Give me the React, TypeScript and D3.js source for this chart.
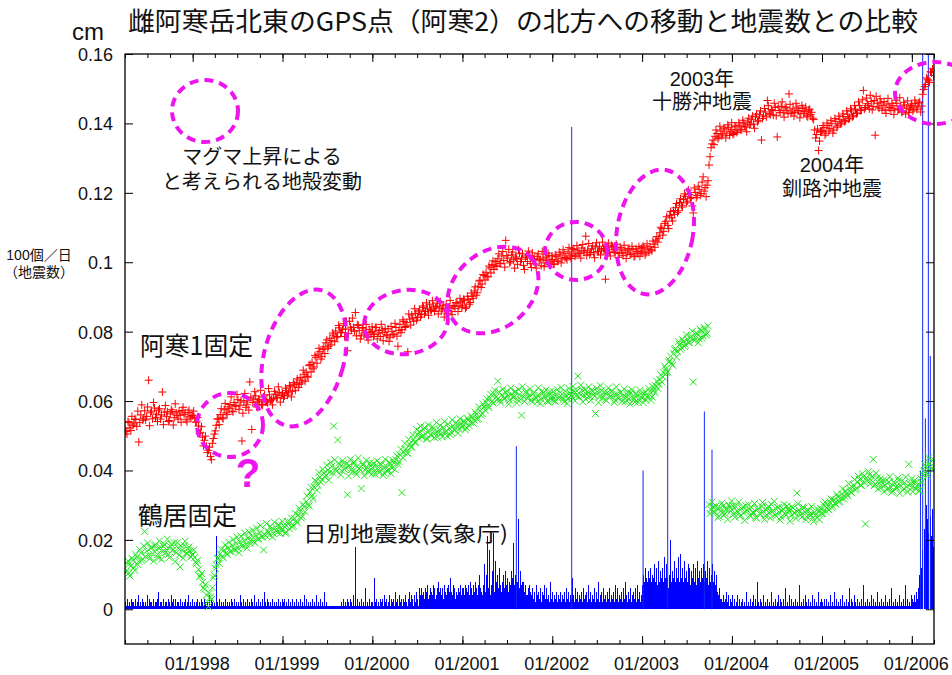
import React, { useEffect, useRef } from "react";
import * as d3 from "d3";

const WIDTH = 952;
const HEIGHT = 675;
const PLOT = { left: 125, right: 934, top: 54, bottom: 644 };

const START = new Date(1997, 3, 1);
const END = new Date(2006, 3, 1);

// Northward displacement of 阿寒2 relative to 阿寒1, in 1e-4 cm, one sample every 8 days
// from Jan 1 of each year (1997 begins Apr 1).
const akan1_1997 = [520, 505, 538, 515, 530, 548, 527, 482, 560, 545, 572, 556, 660, 566, 549, 580, 562, 574, 548, 626, 568, 555, 541, 563, 570, 552, 566, 548, 559, 573, 561, 546, 567, 555, 558];
const akan1_1998 = [558, 552, 540, 528, 510, 496, 487, 470, 458, 440, 478, 505, 530, 548, 561, 552, 575, 566, 583, 590, 571, 596, 585, 604, 588, 485, 597, 582, 601, 655, 518, 606, 615, 598, 603, 590, 612, 600, 595, 618, 604, 608, 620, 611, 625, 616];
const akan1_1999 = [621, 615, 630, 624, 641, 628, 647, 652, 639, 668, 660, 676, 683, 669, 705, 712, 698, 726, 735, 742, 728, 756, 768, 752, 781, 774, 790, 802, 786, 811, 798, 823, 808, 745, 830, 805, 812, 855, 820, 803, 788, 810, 797, 784, 806, 792];
const akan1_2000 = [801, 792, 812, 796, 786, 805, 798, 791, 808, 784, 800, 793, 812, 758, 821, 806, 829, 815, 742, 836, 848, 830, 852, 841, 862, 849, 870, 858, 866, 879, 861, 874, 868, 882, 871, 859, 876, 864, 853, 870, 858, 875, 867, 882, 873, 886];
const akan1_2001 = [876, 889, 871, 893, 884, 902, 917, 905, 931, 948, 937, 962, 971, 958, 984, 993, 979, 1002, 1010, 996, 1018, 1005, 1063, 1012, 998, 1021, 1007, 1015, 994, 1026, 1009, 991, 1013, 1002, 1020, 985, 1008, 995, 1017, 1004, 990, 1012, 998, 1006, 1019, 1001];
const akan1_2002 = [1008, 995, 1016, 1003, 1021, 1010, 1026, 1012, 1030, 1018, 1024, 1037, 1020, 1033, 1026, 1041, 1029, 1075, 1035, 1022, 1039, 1027, 1044, 1031, 1046, 1035, 1040, 951, 1043, 1030, 1049, 1036, 1028, 1042, 1025, 1038, 1019, 1033, 1027, 1040, 1024, 1036, 1018, 1031, 1045, 1029];
const akan1_2003 = [1032, 1041, 1026, 1038, 1045, 1033, 1052, 1064, 1058, 1085, 1097, 1089, 1118, 1106, 1135, 1128, 1149, 1157, 1143, 1172, 1164, 1181, 1190, 1176, 1195, 1187, 1142, 1201, 1192, 1210, 1198, 1246, 1215, 1222, 1280, 1330, 1352, 1363, 1371, 1360, 1378, 1369, 1384, 1372, 1389, 1377];
const akan1_2004 = [1382, 1371, 1390, 1378, 1395, 1383, 1401, 1389, 1404, 1396, 1412, 1398, 1419, 1405, 1425, 1352, 1421, 1433, 1466, 1428, 1440, 1424, 1446, 1361, 1437, 1449, 1432, 1445, 1438, 1485, 1429, 1442, 1431, 1447, 1436, 1428, 1443, 1434, 1422, 1438, 1426, 1415, 1381, 1368, 1322, 1375];
const akan1_2005 = [1379, 1388, 1372, 1394, 1385, 1399, 1381, 1406, 1393, 1412, 1401, 1420, 1408, 1427, 1415, 1436, 1422, 1441, 1430, 1452, 1438, 1495, 1446, 1457, 1442, 1463, 1449, 1366, 1458, 1444, 1461, 1452, 1439, 1456, 1446, 1437, 1451, 1442, 1458, 1440, 1449, 1435, 1453, 1444, 1431, 1448];
const akan1_2006 = [1452, 1441, 1458, 1447, 1462, 1450, 1498, 1512, 1527, 1518, 1546, 1538];

// Same station, the samples taken 4 days after each of the above.
const akan1Mid_1997 = [512, 541, 523, 556, 534, 547, 571, 538, 589, 551, 546, 583, 529, 571, 596, 553, 541, 578, 560, 532, 587, 569, 544, 575, 531, 592, 558, 571, 539, 582, 566, 540, 574, 551];
const akan1Mid_1998 = [571, 539, 553, 507, 526, 471, 499, 452, 467, 431, 492, 514, 549, 532, 578, 549, 593, 561, 578, 612, 569, 587, 619, 576, 601, 565, 622, 589, 574, 611, 596, 627, 583, 604, 631, 588, 617, 598, 636, 602, 589, 628, 609, 641, 597, 624];
const akan1Mid_1999 = [608, 637, 617, 645, 612, 653, 631, 664, 648, 652, 689, 657, 671, 702, 684, 693, 731, 709, 752, 721, 749, 737, 776, 758, 762, 796, 771, 784, 818, 797, 806, 786, 829, 794, 813, 839, 801, 788, 818, 779, 812, 793, 821, 776, 798, 814];
const akan1Mid_2000 = [786, 812, 779, 803, 821, 774, 809, 788, 772, 815, 791, 824, 787, 803, 797, 834, 812, 826, 851, 819, 839, 866, 833, 857, 842, 874, 851, 883, 847, 863, 889, 858, 872, 851, 886, 866, 842, 879, 861, 890, 849, 873, 884, 858, 896, 869];
const akan1Mid_2001 = [893, 867, 902, 879, 911, 896, 929, 912, 946, 927, 965, 949, 958, 989, 969, 1004, 991, 988, 1024, 997, 1031, 986, 1019, 1037, 1002, 1029, 983, 1011, 1036, 1002, 1024, 979, 1018, 1032, 996, 1027, 1011, 983, 1024, 1008, 1031, 987, 1015, 1026, 993, 1018];
const akan1Mid_2002 = [994, 1021, 1003, 1029, 998, 1036, 1014, 1007, 1042, 1011, 1039, 1017, 1048, 1025, 1012, 1051, 1033, 1019, 1054, 1028, 1047, 1013, 1056, 1031, 1021, 1058, 1037, 1024, 1055, 1018, 1046, 1029, 1052, 1014, 1043, 1027, 1049, 1011, 1038, 1022, 1046, 1016, 1039, 1025, 1017, 1042];
const akan1Mid_2003 = [1047, 1021, 1053, 1029, 1036, 1061, 1043, 1074, 1069, 1101, 1078, 1112, 1131, 1097, 1146, 1119, 1138, 1169, 1148, 1183, 1159, 1197, 1171, 1208, 1183, 1162, 1214, 1186, 1219, 1193, 1231, 1205, 1189, 1235, 1304, 1341, 1339, 1381, 1356, 1392, 1364, 1387, 1358, 1396, 1365, 1402];
const akan1Mid_2004 = [1368, 1393, 1374, 1402, 1381, 1409, 1392, 1376, 1415, 1398, 1421, 1386, 1427, 1409, 1436, 1414, 1443, 1419, 1451, 1425, 1437, 1458, 1422, 1449, 1431, 1462, 1418, 1447, 1428, 1455, 1433, 1421, 1458, 1437, 1416, 1452, 1429, 1447, 1419, 1441, 1432, 1411, 1358, 1384, 1349, 1377];
const akan1Mid_2005 = [1394, 1366, 1401, 1378, 1409, 1372, 1414, 1389, 1421, 1398, 1427, 1405, 1436, 1413, 1442, 1419, 1451, 1428, 1462, 1437, 1468, 1441, 1473, 1452, 1481, 1439, 1466, 1478, 1447, 1471, 1438, 1463, 1429, 1472, 1445, 1458, 1426, 1467, 1439, 1474, 1432, 1461, 1427, 1465, 1441, 1456];
const akan1Mid_2006 = [1436, 1467, 1441, 1459, 1433, 1484, 1506, 1531, 1523, 1549, 1557];

// Same displacement relative to 鶴居, 1e-4 cm.
const tsurui_1997 = [118, 132, 104, 125, 141, 112, 150, 138, 162, 145, 224, 168, 155, 176, 160, 183, 171, 148, 179, 166, 187, 172, 158, 181, 169, 192, 163, 176, 122, 170, 184, 161, 175, 168, 157];
const tsurui_1998 = [158, 149, 132, 115, 96, 78, 58, 41, 8, 35, 62, 98, 128, 147, 160, 152, 171, 163, 178, 166, 184, 172, 190, 176, 195, 182, 198, 187, 205, 190, 211, 196, 214, 202, 220, 208, 171, 212, 226, 214, 231, 219, 236, 222, 240, 228];
const tsurui_1999 = [229, 238, 222, 245, 251, 237, 262, 255, 271, 283, 268, 296, 310, 302, 338, 326, 352, 368, 357, 381, 374, 392, 386, 401, 395, 412, 528, 404, 488, 416, 399, 421, 407, 330, 414, 402, 419, 396, 412, 405, 348, 417, 401, 409, 395, 413];
const tsurui_2000 = [408, 397, 415, 402, 419, 405, 393, 412, 401, 418, 407, 422, 431, 418, 445, 336, 452, 461, 449, 476, 468, 490, 481, 503, 512, 497, 519, 505, 491, 514, 502, 520, 508, 496, 517, 505, 524, 511, 499, 522, 510, 528, 516, 532, 520, 535];
const tsurui_2001 = [528, 541, 524, 546, 539, 553, 545, 561, 550, 572, 564, 583, 596, 587, 608, 599, 621, 612, 657, 603, 618, 609, 624, 614, 602, 620, 611, 627, 604, 618, 559, 612, 625, 608, 617, 603, 621, 610, 598, 616, 605, 622, 611, 600, 618, 607];
const tsurui_2002 = [614, 602, 620, 608, 625, 611, 598, 617, 606, 623, 612, 629, 615, 672, 621, 632, 618, 606, 627, 613, 631, 619, 564, 626, 612, 630, 617, 605, 624, 611, 628, 615, 603, 621, 609, 626, 613, 598, 619, 606, 623, 610, 597, 616, 604, 621];
const tsurui_2003 = [609, 621, 603, 615, 627, 612, 631, 644, 636, 662, 655, 681, 693, 684, 716, 708, 737, 751, 742, 763, 755, 771, 762, 779, 768, 786, 655, 782, 794, 779, 801, 788, 806, 795, 302, 287, 295, 279, 291, 268, 284, 297, 276, 289, 301, 283];
const tsurui_2004 = [287, 274, 296, 281, 268, 290, 277, 299, 284, 271, 293, 279, 265, 288, 276, 297, 282, 269, 291, 278, 302, 285, 272, 294, 280, 266, 289, 276, 298, 283, 270, 292, 278, 335, 286, 273, 295, 281, 267, 284, 271, 262, 279, 266, 283, 290];
const tsurui_2005 = [288, 301, 282, 297, 309, 293, 315, 302, 324, 311, 332, 318, 341, 327, 349, 336, 358, 344, 366, 374, 357, 381, 246, 369, 388, 372, 432, 361, 379, 364, 351, 372, 358, 345, 367, 353, 341, 362, 349, 371, 356, 343, 365, 352, 418, 359];
const tsurui_2006 = [351, 364, 347, 359, 342, 366, 398, 412, 386, 421, 405, 432];

const tsuruiMid_1997 = [107, 139, 96, 147, 121, 158, 129, 172, 141, 183, 152, 191, 146, 178, 139, 186, 158, 197, 144, 181, 163, 202, 149, 187, 171, 138, 192, 156, 183, 147, 196, 162, 179, 151];
const tsuruiMid_1998 = [171, 136, 141, 94, 103, 62, 71, 22, 47, 28, 91, 118, 146, 132, 172, 149, 186, 158, 193, 167, 201, 172, 208, 163, 211, 184, 219, 176, 223, 197, 228, 191, 234, 203, 241, 209, 216, 247, 221, 239, 208, 251, 226, 244, 219, 253];
const tsuruiMid_1999 = [241, 219, 253, 232, 263, 241, 276, 249, 291, 263, 302, 281, 327, 298, 351, 319, 372, 343, 394, 366, 403, 381, 415, 372, 423, 393, 431, 398, 421, 387, 428, 403, 419, 384, 432, 396, 425, 389, 436, 401, 418, 385, 429, 398, 422, 391];
const tsuruiMid_2000 = [421, 389, 428, 394, 417, 386, 432, 398, 424, 391, 429, 403, 442, 426, 461, 437, 478, 452, 489, 467, 502, 481, 518, 493, 527, 498, 524, 491, 531, 503, 526, 495, 538, 509, 529, 497, 541, 512, 533, 503, 546, 518, 538, 507, 549, 524];
const tsuruiMid_2001 = [542, 517, 551, 529, 557, 536, 568, 547, 583, 559, 591, 573, 606, 581, 619, 594, 631, 603, 627, 596, 634, 608, 629, 591, 637, 612, 626, 594, 633, 605, 641, 599, 628, 611, 635, 597, 624, 609, 638, 593, 629, 614, 632, 598, 627, 603];
const tsuruiMid_2002 = [627, 598, 633, 611, 639, 604, 628, 593, 636, 617, 642, 601, 629, 612, 646, 598, 633, 619, 641, 602, 628, 614, 637, 595, 644, 609, 626, 601, 638, 613, 629, 596, 641, 607, 624, 599, 635, 611, 627, 592, 633, 605, 622, 597, 631, 609];
const tsuruiMid_2003 = [596, 627, 611, 636, 602, 641, 624, 657, 648, 676, 669, 701, 682, 712, 729, 703, 748, 727, 771, 749, 778, 757, 791, 769, 783, 801, 774, 796, 768, 807, 782, 812, 791, 817, 276, 309, 281, 298, 264, 293, 306, 271, 288, 259, 296, 312];
const tsuruiMid_2004 = [298, 265, 283, 309, 271, 294, 256, 287, 301, 268, 279, 305, 262, 291, 274, 308, 259, 286, 297, 263, 281, 311, 268, 293, 257, 284, 302, 271, 289, 254, 296, 277, 262, 304, 281, 266, 292, 258, 287, 275, 296, 253, 271, 289, 258, 276];
const tsuruiMid_2005 = [276, 309, 291, 286, 318, 297, 306, 331, 309, 321, 347, 326, 333, 362, 338, 351, 374, 349, 383, 358, 391, 366, 378, 397, 361, 383, 356, 392, 347, 376, 363, 339, 371, 348, 382, 337, 366, 352, 378, 334, 369, 347, 381, 338, 362, 376];
const tsuruiMid_2006 = [339, 372, 356, 341, 377, 389, 417, 394, 436, 411, 428];

// Daily earthquake counts (JMA), largest day in each 4-day bin, one base-36 digit per bin.
const quakes1997 = "2131213221 3124121321 2141322131 2213512213 1221321423 1312213121 231241213";
const quakes1998 = "1212312132 1312121413 2121l21312 1213121213 2131212142 1312131213 2141213121 3152131212 1312121312 13";
const quakes1999 = "2131213121 3121312131 2141312121 3121412131 2151211111 1111111112 1312131213 2141i13121 3121612131 21";
const quakes2000 = "2192312132 3142312413 2315231423 1324213524 3142531646 4536457346 5476346856 4637546759 5476354657 46";
const quakes2001 = "5647657486 4758647a65 47d5al6h47 bm5e8a6c75 8a6b79587b 9j7a88q6b7 8685744675 4635274536 2547363428 35";
const quakes2002 = "3243524352 4352635243 9426352435 2634527352 4362538243 5263425362 4352736243 5263842536 2453627352 46";
const quakes2003 = "7a8c98b9c8 a9d8c7e8b9 c8f9d96ak8 b9e8c9f8ga 9c8e9b8dc7 b9d8c7e9b8 c9d8b9e7c8 ad8b7a5463 3242352413 24";
const quakes2004 = "2131241312 3121512131 2413182131 2141213121 5121312413 2131612141 3121312171 2131421312 1413121512 31";
const quakes2005 = "2131312141 2151312131 4121312613 2141213121 3171213121 4131215121 3121412131 6121312141 2131713121 41";
const quakes2006 = "3242536a8c h0nkuqm0rl tic";

// Days with counts too large for one digit.
const spikeDates = ["2001-08-08", "2002-03-21", "2003-01-05", "2003-04-15", "2003-09-11", "2003-10-12", "2006-02-05", "2006-02-14", "2006-02-25", "2006-03-09", "2006-03-17"];
const spikeCounts = [47, 139, 40, 69, 57, 46, 40, 200, 55, 200, 73];

const yTickValues = [0, 0.02, 0.04, 0.06, 0.08, 0.1, 0.12, 0.14, 0.16];
const yTickLabels = ["0", "0.02", "0.04", "0.06", "0.08", "0.1", "0.12", "0.14", "0.16"];
const yearTickYears = [1998, 1999, 2000, 2001, 2002, 2003, 2004, 2005, 2006];
const yearTickLabels = ["01/1998", "01/1999", "01/2000", "01/2001", "01/2002", "01/2003", "01/2004", "01/2005", "01/2006"];

const JP = '"Noto Sans CJK JP", "Noto Sans", sans-serif';
const NUM = '"Liberation Sans", Arial, Helvetica, sans-serif';
const MIXED = '"Liberation Sans", "Noto Sans CJK JP", sans-serif';
const MAGENTA = "#ee14ee";

type Sample = { date: Date; value: number };

function yearStart(year: number): Date {
  return year === 1997 ? START : new Date(year, 0, 1);
}

function displacement(blocks: [number, number[]][], offsetDays: number): Sample[] {
  const out: Sample[] = [];
  blocks.forEach(([year, vals]) => {
    vals.forEach((v, i) =>
      out.push({ date: d3.timeDay.offset(yearStart(year), offsetDays + i * 8), value: v / 10000 })
    );
  });
  return out;
}

function quakeBins(blocks: [number, string][]): { date: Date; count: number }[] {
  const out: { date: Date; count: number }[] = [];
  blocks.forEach(([year, s]) => {
    s.replace(/\s/g, "").split("").forEach((c, i) => {
      out.push({ date: d3.timeDay.offset(yearStart(year), i * 4), count: parseInt(c, 36) });
    });
  });
  return out;
}

const akan1 = [
  ...displacement([
    [1997, akan1_1997], [1998, akan1_1998], [1999, akan1_1999], [2000, akan1_2000], [2001, akan1_2001],
    [2002, akan1_2002], [2003, akan1_2003], [2004, akan1_2004], [2005, akan1_2005], [2006, akan1_2006],
  ], 0),
  ...displacement([
    [1997, akan1Mid_1997], [1998, akan1Mid_1998], [1999, akan1Mid_1999], [2000, akan1Mid_2000], [2001, akan1Mid_2001],
    [2002, akan1Mid_2002], [2003, akan1Mid_2003], [2004, akan1Mid_2004], [2005, akan1Mid_2005], [2006, akan1Mid_2006],
  ], 4),
];
const tsurui = [
  ...displacement([
    [1997, tsurui_1997], [1998, tsurui_1998], [1999, tsurui_1999], [2000, tsurui_2000], [2001, tsurui_2001],
    [2002, tsurui_2002], [2003, tsurui_2003], [2004, tsurui_2004], [2005, tsurui_2005], [2006, tsurui_2006],
  ], 0),
  ...displacement([
    [1997, tsuruiMid_1997], [1998, tsuruiMid_1998], [1999, tsuruiMid_1999], [2000, tsuruiMid_2000], [2001, tsuruiMid_2001],
    [2002, tsuruiMid_2002], [2003, tsuruiMid_2003], [2004, tsuruiMid_2004], [2005, tsuruiMid_2005], [2006, tsuruiMid_2006],
  ], 4),
];
const quakes = quakeBins([
  [1997, quakes1997], [1998, quakes1998], [1999, quakes1999], [2000, quakes2000], [2001, quakes2001],
  [2002, quakes2002], [2003, quakes2003], [2004, quakes2004], [2005, quakes2005], [2006, quakes2006],
]);
const spikes = spikeDates.map((d, i) => ({ date: d3.timeParse("%Y-%m-%d")(d) as Date, count: spikeCounts[i] }));

export default function App() {
  const ref = useRef<SVGSVGElement>(null);

  useEffect(() => {
    const svg = d3.select(ref.current);
    svg.selectAll("*").remove();

    const x = d3.scaleTime().domain([START, END]).range([PLOT.left, PLOT.right]);
    const y = d3.scaleLinear().domain([-0.01, 0.16]).range([PLOT.bottom, PLOT.top]);
    // 100 events per day sits at 0.1 on the left scale
    const yq = (n: number) => y(n / 1000);

    svg.append("rect").attr("width", WIDTH).attr("height", HEIGHT).attr("fill", "#fff");

    svg.append("defs").append("clipPath").attr("id", "plot-clip")
      .append("rect")
      .attr("x", PLOT.left).attr("y", PLOT.top)
      .attr("width", PLOT.right - PLOT.left).attr("height", PLOT.bottom - PLOT.top);

    const plot = svg.append("g").attr("clip-path", "url(#plot-clip)");

    // daily earthquake counts
    const qPath = d3.path();
    quakes.forEach((q) => {
      if (q.count <= 0) return;
      const px = Math.round(x(q.date)) + 0.5;
      qPath.moveTo(px, y(0));
      qPath.lineTo(px, yq(q.count));
    });
    plot.append("path").attr("d", qPath.toString())
      .attr("stroke", "#0000ff").attr("stroke-width", 1).attr("fill", "none")
      .attr("shape-rendering", "crispEdges");
    const sPath = d3.path();
    spikes.forEach((q) => {
      const px = x(q.date);
      sPath.moveTo(px, y(0));
      sPath.lineTo(px, yq(q.count));
    });
    plot.append("path").attr("d", sPath.toString())
      .attr("stroke", "#1028ff").attr("stroke-width", 1).attr("fill", "none");

    // 阿寒1固定: plus markers
    const rPath = d3.path();
    akan1.forEach((p) => {
      const px = x(p.date), py = y(p.value);
      rPath.moveTo(px - 4, py); rPath.lineTo(px + 4, py);
      rPath.moveTo(px, py - 4); rPath.lineTo(px, py + 4);
    });
    plot.append("path").attr("d", rPath.toString())
      .attr("stroke", "#ff0000").attr("stroke-width", 1).attr("fill", "none");

    // 鶴居固定: cross markers
    const gPath = d3.path();
    tsurui.forEach((p) => {
      const px = x(p.date), py = y(p.value);
      gPath.moveTo(px - 3.5, py - 3.5); gPath.lineTo(px + 3.5, py + 3.5);
      gPath.moveTo(px - 3.5, py + 3.5); gPath.lineTo(px + 3.5, py - 3.5);
    });
    plot.append("path").attr("d", gPath.toString())
      .attr("stroke", "#22e622").attr("stroke-width", 1).attr("fill", "none");

    // axes with inward ticks
    const quarterTicks = d3.timeMonth.every(3)!.range(START, d3.timeDay.offset(END, 1));
    const yearTicks = yearTickYears.map((yr) => new Date(yr, 0, 1));
    const styleAxis = (g: d3.Selection<SVGGElement, unknown, null, undefined>) => {
      g.select(".domain").remove();
      g.selectAll("line").attr("stroke", "#000").attr("stroke-width", 1);
    };

    svg.append("g").attr("transform", `translate(0,${PLOT.bottom})`)
      .call(d3.axisBottom(x).tickValues(quarterTicks).tickSizeInner(-4).tickFormat(() => ""))
      .call(styleAxis);
    svg.append("g").attr("transform", `translate(0,${PLOT.top})`)
      .call(d3.axisTop(x).tickValues(quarterTicks).tickSizeInner(-4).tickFormat(() => ""))
      .call(styleAxis);
    svg.append("g").attr("transform", `translate(0,${PLOT.top})`)
      .call(d3.axisTop(x).tickValues(yearTicks).tickSizeInner(-8).tickFormat(() => ""))
      .call(styleAxis);
    const bottom = svg.append("g").attr("transform", `translate(0,${PLOT.bottom})`)
      .call(d3.axisBottom(x).tickValues(yearTicks).tickSizeInner(-8).tickPadding(13)
        .tickFormat((_d, i) => yearTickLabels[i]))
      .call(styleAxis);
    bottom.selectAll("text").attr("x", 4).attr("font-size", 18).attr("font-family", NUM).attr("fill", "#111");

    const left = svg.append("g").attr("transform", `translate(${PLOT.left},0)`)
      .call(d3.axisLeft(y).tickValues(yTickValues).tickSizeInner(-8).tickPadding(12)
        .tickFormat((_d, i) => yTickLabels[i]))
      .call(styleAxis);
    left.selectAll("text").attr("font-size", 18).attr("font-family", NUM).attr("fill", "#111").attr("dy", "0.36em");
    svg.append("g").attr("transform", `translate(${PLOT.right},0)`)
      .call(d3.axisRight(y).tickValues(yTickValues).tickSizeInner(-8).tickFormat(() => ""))
      .call(styleAxis);

    svg.append("rect")
      .attr("x", PLOT.left).attr("y", PLOT.top)
      .attr("width", PLOT.right - PLOT.left).attr("height", PLOT.bottom - PLOT.top)
      .attr("fill", "none").attr("stroke", "#000").attr("stroke-width", 1.3);

    // highlighted episodes
    const rings: [number, number, number, number, number][] = [
      [205, 111, 33, 31, 0],
      [230, 425, 33, 32, 0],
      [304, 358, 40, 70, 15],
      [406, 322, 42, 32, -8],
      [493, 290, 50, 38, -40],
      [576, 251, 31, 29, 0],
      [655, 232, 38, 63, 10],
      [935, 93, 40, 31, 0],
    ];
    svg.append("g").selectAll("ellipse").data(rings).join("ellipse")
      .attr("transform", (d) => `translate(${d[0]},${d[1]}) rotate(${d[4]})`)
      .attr("rx", (d) => d[2]).attr("ry", (d) => d[3])
      .attr("fill", "none").attr("stroke", MAGENTA).attr("stroke-width", 4)
      .attr("stroke-dasharray", "9 6");

    svg.append("text").attr("x", 248).attr("y", 487).attr("text-anchor", "middle")
      .attr("font-family", NUM).attr("font-weight", "bold").attr("font-size", 40)
      .attr("fill", MAGENTA).text("?");

    const label = (tx: number, ty: number, s: string, size: number, anchor = "start", family = JP, len?: number) => {
      const t = svg.append("text").attr("x", tx).attr("y", ty).attr("font-size", size)
        .attr("font-family", family).attr("fill", "#111").attr("text-anchor", anchor).text(s);
      if (len) t.attr("textLength", len).attr("lengthAdjust", "spacingAndGlyphs");
      return t;
    };
    // two-line label as one text element
    const label2 = (tx: number, ty: number, lines: string[], size: number, gap: number) => {
      const t = svg.append("text").attr("font-size", size).attr("font-family", MIXED)
        .attr("fill", "#111").attr("text-anchor", "middle");
      lines.forEach((s, i) => {
        t.append("tspan").attr("x", tx).attr("y", ty + i * gap).text(s);
      });
      return t;
    };

    label(128, 31, "雌阿寒岳北東のGPS点（阿寒2）の北方への移動と地震数との比較", 26, "start", JP, 790);
    label(72, 40, "cm", 24, "start", NUM);
    label2(39, 260, ["100個／日", "（地震数）"], 14, 17);
    label(140, 355, "阿寒1固定", 25, "start", JP, 113);
    label(138, 525, "鶴居固定", 25, "start", JP, 99);
    label(303, 541, "日別地震数(気象庁)", 21, "start", JP, 205);
    label2(262, 164, ["マグマ上昇による", "と考えられる地殻変動"], 20, 25);
    label2(702, 86, ["2003年", "十勝沖地震"], 20, 23);
    label2(832, 172, ["2004年", "釧路沖地震"], 20, 24);
  }, []);

  return (
    <svg
      ref={ref}
      width={WIDTH}
      height={HEIGHT}
      style={{ position: "absolute", left: 0, top: 0, display: "block" }}
    />
  );
}
